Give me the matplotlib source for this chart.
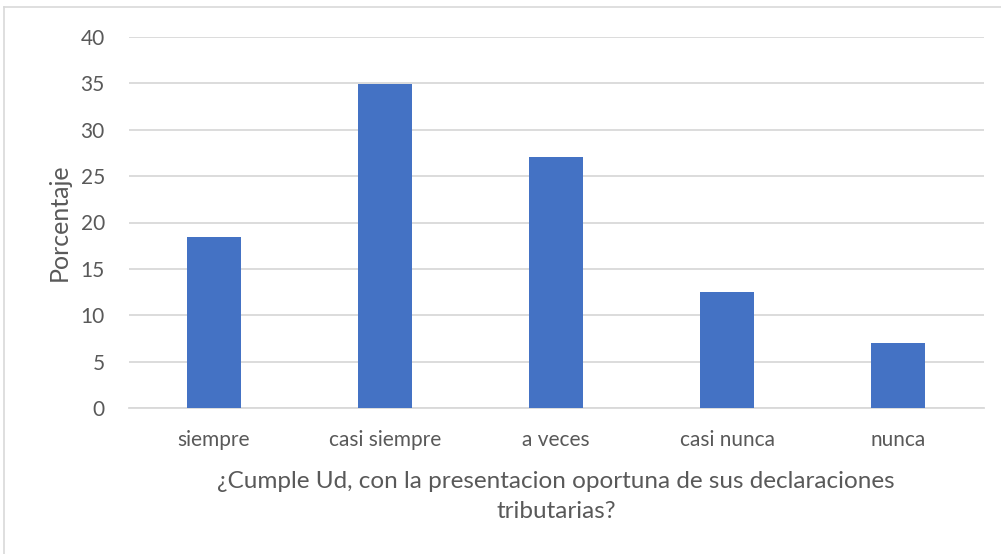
import matplotlib.pyplot as plt
from matplotlib.lines import Line2D

categorias = ["siempre", "casi siempre", "a veces", "casi nunca", "nunca"]
porcentajes = [18.4, 34.9, 27.1, 12.5, 7.0]

GRIS = "#595959"
plt.rcParams['font.family'] = ['Lato', 'DejaVu Sans']

fig = plt.figure(figsize=(10.01, 5.54), dpi=100)
ax = fig.add_axes([128.5 / 1001, 1 - 408 / 554, 855 / 1001, 371 / 554])

x = range(len(categorias))
ax.bar(x, porcentajes, width=0.316, color="#4472c4", zorder=3)

ax.set_xlim(-0.5, len(categorias) - 0.5)
ax.set_ylim(0, 40)
ax.set_yticks(range(0, 41, 5))
ax.set_xticks(list(x))
ax.set_xticklabels(categorias)
ax.grid(axis="y", color="#d9d9d9", linewidth=1.3, zorder=0)
for s in ["top", "right", "left"]:
    ax.spines[s].set_visible(False)
ax.spines["bottom"].set_color("#d9d9d9")
ax.spines["bottom"].set_linewidth(1.3)
ax.tick_params(axis="both", length=0, labelsize=15, colors=GRIS)
ax.tick_params(axis="y", pad=17)
ax.tick_params(axis="x", pad=16)

ax.set_ylabel("Porcentaje", fontsize=18, color=GRIS)
ax.yaxis.set_label_coords(-58 / 855, 0.5)
ax.set_xlabel("¿Cumple Ud, con la presentacion oportuna de sus declaraciones\ntributarias?",
              fontsize=17.5, color=GRIS, labelpad=15, linespacing=1.55)

# marco exterior (solo arriba e izquierda visibles)
x0, y0 = 4 / 1001, 1 - 7 / 554
fig.add_artist(Line2D([x0, 1.0], [y0, y0], transform=fig.transFigure,
                      color="#d9d9d9", linewidth=1.2))
fig.add_artist(Line2D([x0, x0], [0, y0], transform=fig.transFigure,
                      color="#d9d9d9", linewidth=1.2))

fig.savefig("out.png", dpi=100)
